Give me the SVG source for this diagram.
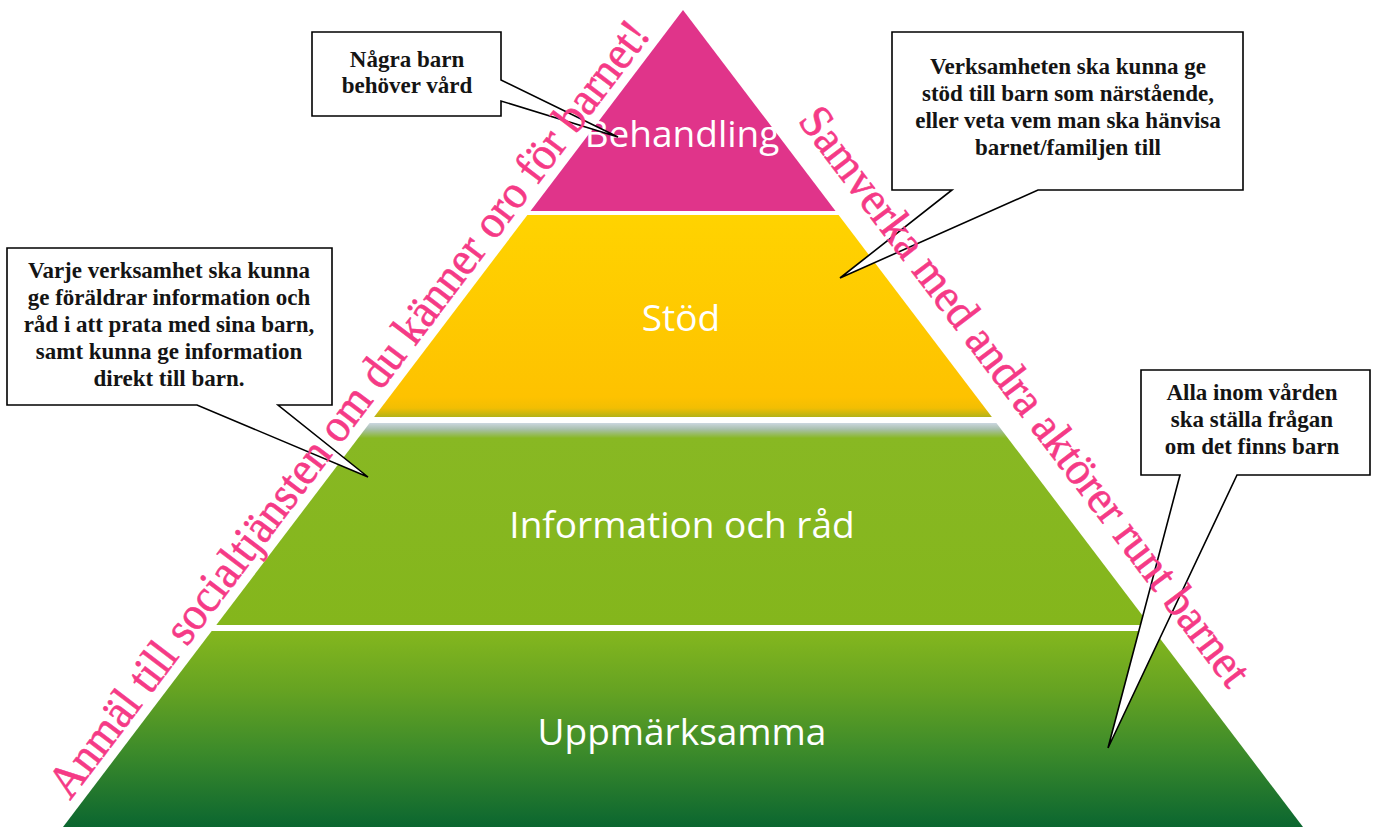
<svg xmlns="http://www.w3.org/2000/svg" width="1374" height="827" viewBox="0 0 1374 827">
  <defs>
    <linearGradient id="gYellow" x1="0" y1="0" x2="0" y2="1">
      <stop offset="0" stop-color="#FFD300"/>
      <stop offset="0.9" stop-color="#FEC200"/>
      <stop offset="0.955" stop-color="#F2BE03"/>
      <stop offset="1" stop-color="#B3B218"/>
    </linearGradient>
    <linearGradient id="gInfo" x1="0" y1="0" x2="0" y2="1">
      <stop offset="0" stop-color="#CBD7E0"/>
      <stop offset="0.03" stop-color="#A9C0AE"/>
      <stop offset="0.075" stop-color="#88B823"/>
      <stop offset="1" stop-color="#84B61C"/>
    </linearGradient>
    <linearGradient id="gBase" x1="0" y1="0" x2="0" y2="1">
      <stop offset="0" stop-color="#84B71E"/>
      <stop offset="0.3" stop-color="#66A322"/>
      <stop offset="0.6" stop-color="#3E8C2A"/>
      <stop offset="1" stop-color="#0B6630"/>
    </linearGradient>
    <style>
      .band-label { font-family: "Open Sans", "Noto Sans", sans-serif; font-size: 37px; fill: #FFFFFF; text-anchor: middle; }
      .callout { fill: #FFFFFF; stroke: #000000; stroke-width: 1.6; stroke-linejoin: miter; }
      .callout-text { font-family: "Liberation Serif", serif; font-weight: bold; font-size: 23px; fill: #141414; text-anchor: middle; }
      .edge-text { font-family: "Liberation Serif", serif; font-size: 47px; fill: #F53A86; stroke: #F53A86; stroke-width: 0.6; }
    </style>
  </defs>
  <rect x="0" y="0" width="1374" height="827" fill="#FFFFFF"/>

  <g id="level-behandling">
    <polygon points="683,10 835.5,211 530.5,211" fill="#E0348A"/>
    <text class="band-label" x="682" y="147">Behandling</text>
  </g>
  <g id="level-stod">
    <polygon points="527.4,215 838.6,215 991.9,417 374.1,417" fill="url(#gYellow)"/>
    <text class="band-label" x="681" y="331">Stöd</text>
  </g>
  <g id="level-information">
    <polygon points="369.6,423 996.4,423 1149.7,625 216.3,625" fill="url(#gInfo)"/>
    <text class="band-label" x="682" y="538">Information och råd</text>
  </g>
  <g id="level-uppmarksamma">
    <polygon points="211.7,631 1154.3,631 1303,827 63,827" fill="url(#gBase)"/>
    <text class="band-label" x="682" y="745">Uppmärksamma</text>
  </g>

  <g id="connectors">
    <!-- callout tails are part of each callout shape -->
  </g>

  <g id="callout-vard">
    <path class="callout" d="M312,32 H501 V80 L618,137 L501,101 V116 H312 Z"/>
    <text class="callout-text" x="407" y="67">Några barn</text>
    <text class="callout-text" x="407" y="93">behöver vård</text>
  </g>
  <g id="callout-stod">
    <path class="callout" d="M892,32 H1243 V190 H1038 L840,278 L952,190 H892 Z"/>
    <text class="callout-text" x="1068" y="74">Verksamheten ska kunna ge</text>
    <text class="callout-text" x="1068" y="101">stöd till barn som närstående,</text>
    <text class="callout-text" x="1068" y="128">eller veta vem man ska hänvisa</text>
    <text class="callout-text" x="1068" y="155">barnet/familjen till</text>
  </g>
  <g id="callout-info">
    <path class="callout" d="M7,248 H332 V405 H278 L368,477 L197,405 H7 Z"/>
    <text class="callout-text" x="169" y="278">Varje verksamhet ska kunna</text>
    <text class="callout-text" x="169" y="305">ge föräldrar information och</text>
    <text class="callout-text" x="169" y="332">råd i att prata med sina barn,</text>
    <text class="callout-text" x="169" y="359">samt kunna ge information</text>
    <text class="callout-text" x="169" y="386">direkt till barn.</text>
  </g>
  <g id="callout-fraga">
    <path class="callout" d="M1141,370 H1370 V475 H1237 L1108,748 L1180,475 H1141 Z"/>
    <text class="callout-text" x="1252" y="400">Alla inom vården</text>
    <text class="callout-text" x="1252" y="427">ska ställa frågan</text>
    <text class="callout-text" x="1252" y="454">om det finns barn</text>
  </g>

  <g id="edge-left">
    <text class="edge-text" transform="translate(70,801) rotate(-52.8)" x="0" y="0" textLength="962" lengthAdjust="spacingAndGlyphs">Anmäl till socialtjänsten om du känner oro för barnet!</text>
  </g>
  <g id="edge-right">
    <text class="edge-text" transform="translate(797,121) rotate(52.8)" x="0" y="0" textLength="714" lengthAdjust="spacingAndGlyphs">Samverka med andra aktörer runt barnet</text>
  </g>
</svg>
